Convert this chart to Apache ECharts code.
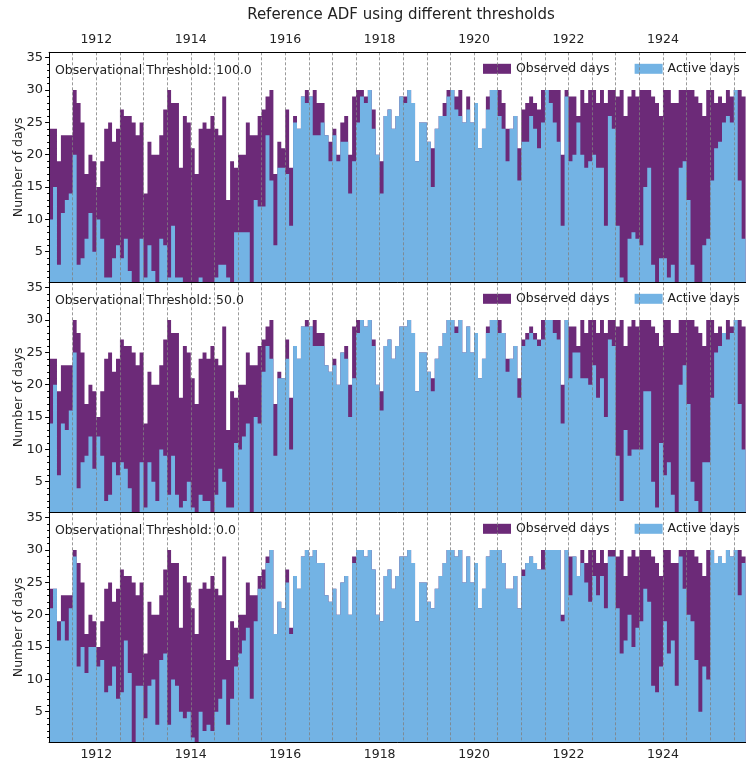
<!DOCTYPE html>
<html><head><meta charset="utf-8">
<script src="https://cdn.jsdelivr.net/npm/echarts@6/dist/echarts.min.js"></script>
<style>html,body{margin:0;padding:0;background:#fff;overflow:hidden}#c{width:746px;height:761px}</style>
</head><body><div id="c"></div>
<script>
const startYear = 1911;
const observedDays = [
24,24,19,23,23,23,30,28,25,17,20,19,
15,19,24,25,22,24,27,26,26,25,23,25,
14,22,20,20,23,27,30,28,28,18,26,25,
21,17,24,25,24,26,24,23,29,13,19,18,
20,20,25,23,23,26,27,29,30,17,22,21,
27,18,26,24,29,30,29,30,28,28,23,22,
24,20,25,26,20,29,30,30,29,30,27,20,
19,26,27,24,26,29,29,30,28,19,25,25,
22,21,24,26,28,30,30,29,30,25,29,25,
28,21,24,29,30,30,30,28,24,24,26,21,
27,28,29,28,27,30,30,30,30,30,20,30,
29,29,26,30,28,30,30,28,30,28,30,30,
29,30,26,29,30,29,30,30,30,29,28,26,
30,30,28,28,30,30,30,30,29,28,26,30,
30,28,29,28,30,29,30,30,29];
const activeDays100 = [
10,15,3,11,13,14,20,3,4,7,11,5,
10,7,1,1,4,6,4,7,2,0,0,7,
1,6,2,0,7,6,1,9,1,1,0,0,
0,0,1,0,0,0,1,3,3,1,0,8,
8,8,8,0,13,12,12,23,16,6,18,18,
17,9,25,24,29,28,29,23,23,25,23,19,
23,19,22,22,14,19,25,29,28,30,24,20,
14,26,27,24,26,29,28,30,28,19,25,25,
22,15,24,26,26,29,30,27,26,25,27,25,
28,21,24,27,30,30,26,24,19,24,26,16,
22,22,26,24,21,25,30,28,25,22,9,29,
19,20,25,20,18,19,20,18,18,9,26,24,
9,1,0,7,8,7,6,15,18,3,0,4,
4,1,3,0,18,19,13,3,0,0,6,7,
16,21,22,25,26,25,30,16,7];
const activeDays50 = [
14,20,6,14,13,16,25,4,8,9,12,7,
12,9,2,3,8,6,8,7,4,0,0,8,
1,8,5,2,10,9,3,9,3,1,2,5,
1,0,3,2,2,0,3,7,5,1,1,11,
10,12,14,0,15,14,22,26,24,9,21,21,
24,10,26,24,29,29,29,26,26,26,23,22,
23,20,25,24,15,21,28,30,29,30,26,20,
16,26,27,24,26,29,29,30,28,19,25,25,
22,19,24,26,28,30,30,28,30,25,29,25,
28,21,24,28,30,30,28,28,22,24,26,18,
26,27,28,27,26,27,30,30,28,27,14,30,
21,25,25,21,21,20,23,18,21,15,27,26,
9,2,13,9,10,10,10,19,19,5,1,11,
6,8,3,0,20,23,17,5,2,0,8,8,
18,25,26,28,27,28,30,17,10];
const activeDays0 = [
21,24,16,19,16,21,29,12,15,11,15,15,
12,13,8,9,12,7,8,16,11,0,9,9,
4,9,10,3,13,14,3,10,9,5,4,5,
1,0,5,2,3,2,5,7,10,3,7,12,
14,16,18,7,19,24,24,28,30,17,22,21,
25,17,26,24,29,30,29,30,28,28,23,22,
24,20,25,26,20,28,30,30,29,30,27,20,
19,26,27,24,26,29,29,30,28,19,25,25,
22,21,24,26,28,30,30,29,30,25,29,25,
28,21,24,29,30,30,30,28,24,24,26,21,
26,28,29,28,27,27,30,30,30,30,19,30,
23,29,26,28,25,22,26,23,26,21,29,29,
21,14,16,20,15,18,19,24,22,9,8,12,
19,14,16,9,29,24,20,19,13,5,12,10,
30,28,29,28,30,29,30,23,28];
const thresholdLabels = ['100.0', '50.0', '0.0'];
const activeByPanel = [activeDays100, activeDays50, activeDays0];
const yTickLabels = [5, 10, 15, 20, 25, 30, 35];
const yMinorTicks = [1,2,3,4,6,7,8,9,11,12,13,14,16,17,18,19,21,22,23,24,26,27,28,29,31,32,33,34];
const xTickLabels = [1912, 1914, 1916, 1918, 1920, 1922, 1924];
const seriesNames = ['Observed days', 'Active days'];
const chartTitle = 'Reference ADF using different thresholds';

const PURPLE = '#6c2a78', BLUE = '#73b3e4';
const FONT = 'DejaVu Sans';
const gridTops = [52.3, 282.3, 512.3];
const GRID_H = 230, GRID_LEFT = 49.1, GRID_W = 708.3;
const YMIN = 0.27, YMAX = 35.84, XMIN = 1911, XMAX = 1926;

// monthly bars as a step outline: each month's value holds from its start to the next month's start
function toSteps(arr) {
  const pts = arr.map((v, i) => [startYear + i / 12, v]);
  pts.push([startYear + arr.length / 12, arr[arr.length - 1]]);
  return pts;
}
const labelFmt = v => (xTickLabels.includes(v) ? String(v) : '');

function barSeries(name, color, data, xi, yi) {
  return { type: 'line', name: name, xAxisIndex: xi, yAxisIndex: yi, step: 'end', clip: true,
    data: data, showSymbol: false, symbol: 'none', silent: true,
    color: color, itemStyle: { color: color },
    lineStyle: { width: 0, color: color },
    areaStyle: { color: color, opacity: 1, origin: 'start' } };
}

const grids = [], xAxes = [], yAxes = [], series = [], legends = [], graphics = [];
gridTops.forEach((top, k) => {
  grids.push({ left: GRID_LEFT, top: top, width: GRID_W, height: GRID_H, containLabel: false, outerBoundsMode: 'none' });
  const bottomIdx = xAxes.length;
  xAxes.push({ type: 'value', gridIndex: k, position: 'bottom', min: XMIN, max: XMAX, interval: 0.5, z: 5,
    axisLine: { show: true, onZero: false, lineStyle: { color: '#000', width: 1 } },
    axisTick: { show: false },
    axisLabel: { show: k === 2, formatter: labelFmt, fontSize: 12.5, color: '#222', margin: 6, fontFamily: FONT },
    splitLine: { show: true, lineStyle: { color: '#808080', width: 0.8, type: [3, 2] } } });
  if (k === 0) {
    xAxes.push({ type: 'value', gridIndex: k, position: 'top', min: XMIN, max: XMAX, interval: 0.5, z: 5,
      axisLine: { show: true, onZero: false, lineStyle: { color: '#000', width: 1 } },
      axisTick: { show: false },
      axisLabel: { show: true, formatter: labelFmt, fontSize: 12.5, color: '#222', margin: 6, fontFamily: FONT },
      splitLine: { show: false } });
  }
  const yIdx = yAxes.length;
  yAxes.push({ type: 'value', gridIndex: k, position: 'left', min: YMIN, max: YMAX, z: 5,
    axisLine: { show: true, onZero: false, lineStyle: { color: '#000', width: 1 } },
    axisTick: { show: true, customValues: yTickLabels, length: 4, lineStyle: { color: '#000' } },
    axisLabel: { show: true, customValues: yTickLabels, fontSize: 13, color: '#222', margin: 6, fontFamily: FONT },
    splitLine: { show: false },
    name: 'Number of days', nameLocation: 'middle', nameGap: 24, nameRotate: 90, nameMoveOverlap: false,
    nameTextStyle: { fontSize: 12.5, color: '#222', fontFamily: FONT } });
  yAxes.push({ type: 'value', gridIndex: k, position: 'left', min: YMIN, max: YMAX, z: 5,
    axisLine: { show: false },
    axisTick: { show: true, customValues: yMinorTicks, length: 2, lineStyle: { color: '#000' } },
    axisLabel: { show: false }, splitLine: { show: false } });
  series.push(barSeries(seriesNames[0], PURPLE, toSteps(observedDays), bottomIdx, yIdx));
  series.push(barSeries(seriesNames[1], BLUE, toSteps(activeByPanel[k]), bottomIdx, yIdx));
  legends.push({ left: 483, top: top + 10, itemWidth: 28, itemHeight: 10, itemGap: 25, icon: 'rect',
    padding: 0, selectedMode: false, data: seriesNames,
    textStyle: { fontSize: 12.5, color: '#222', fontFamily: FONT } });
  graphics.push({ type: 'text', left: 55, top: top + 12, z: 10,
    style: { text: 'Observational Threshold: ' + thresholdLabels[k], fontSize: 12.5, fill: '#222', fontFamily: FONT } });
});
graphics.push({ type: 'text', x: 401, y: 15, z: 10,
  style: { text: chartTitle, fontSize: 15, fill: '#222', fontFamily: FONT, textAlign: 'center', textVerticalAlign: 'middle' } });

const chart = echarts.init(document.getElementById('c'), null, { renderer: 'canvas' });
chart.setOption({
  animation: false,
  backgroundColor: '#fff',
  textStyle: { fontFamily: FONT },
  grid: grids, xAxis: xAxes, yAxis: yAxes, series: series, legend: legends, graphic: graphics
});
</script></body></html>
